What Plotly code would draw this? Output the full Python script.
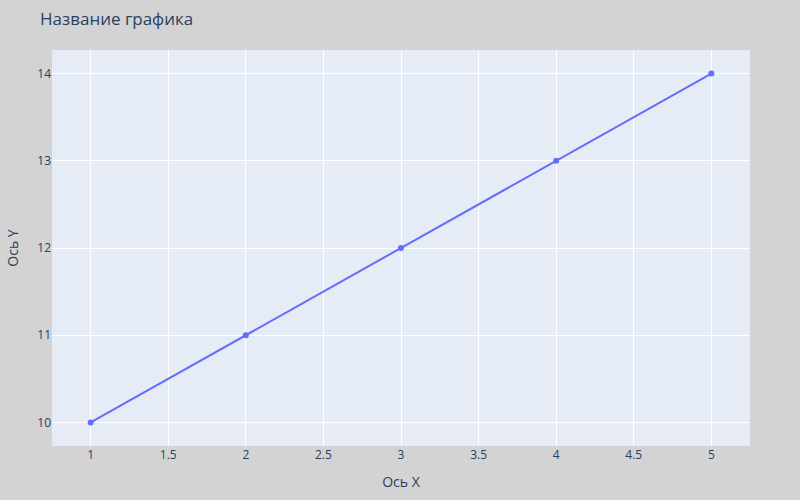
import plotly.graph_objects as go

x_values = [1, 2, 3, 4, 5]
y_values = [10, 11, 12, 13, 14]

fig = go.Figure()
fig.add_trace(go.Scatter(x=x_values, y=y_values, mode="lines+markers"))
fig.update_layout(
    title="Название графика",
    xaxis_title="Ось X",
    yaxis_title="Ось Y",
    paper_bgcolor="lightgray",
    width=800,
    height=500,
    margin=dict(l=50, r=50, t=50, b=50),
)
fig.update_yaxes(dtick=1)
fig.write_html(
    "out.html",
    config={"displayModeBar": False},
    post_script="document.body.style.margin='0';document.body.style.overflow='hidden';",
)
